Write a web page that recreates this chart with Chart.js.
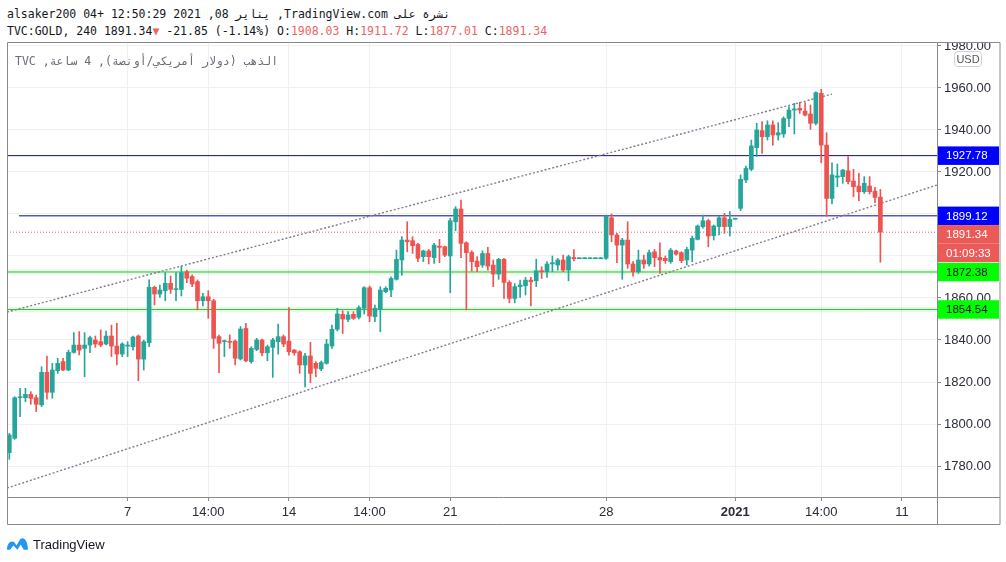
<!DOCTYPE html>
<html>
<head>
<meta charset="utf-8">
<script src="https://cdn.jsdelivr.net/npm/chart.js@4.4.1/dist/chart.umd.min.js"></script>
<style>
html, body { margin: 0; padding: 0; background: #fff; width: 1006px; height: 562px; overflow: hidden; }
#wrap { position: relative; width: 1006px; height: 562px; }
#chart { position: absolute; left: 0; top: 0; }
#head { position: absolute; left: 0; top: 0; width: 1006px; height: 42px; background: #fff; z-index: 2;
        font: 11.5px "DejaVu Sans Mono", monospace; color: #131722; }
#head div { position: absolute; left: 7px; white-space: pre; line-height: 14px; }
.l1 { top: 7px; direction: rtl; text-align: left; }
.l2 { top: 24px; }
.r { color: #ec6462; }
#legend { position: absolute; left: 15px; top: 54px; z-index: 2; direction: rtl; text-align: left; white-space: pre;
          font: 11.5px "DejaVu Sans Mono", monospace; color: #6a6d78; line-height: 14px; }
#usd { position: absolute; left: 954px; top: 51px; width: 28px; height: 16px; z-index: 3; box-sizing: border-box;
       border: 1px solid #cfd2d8; border-radius: 4px; background: #fff; text-align: center;
       font: 11px "Liberation Sans", Arial, sans-serif; line-height: 14px; color: #555; }
#logo { position: absolute; left: 6px; top: 535px; height: 18px; display: flex; align-items: center; }
#logo span { margin-left: 4px; font: 13px "Liberation Sans Narrow", "Liberation Sans", Arial, sans-serif; color: #131722; }
</style>
</head>
<body>
<div id="wrap">
  <canvas id="chart" width="1006" height="562"></canvas>
  <div id="head">
    <div class="l1" dir="rtl">نشرة على TradingView.com, يناير 08, 2021 12:50:29 +04 alsaker200</div>
    <div class="l2" id="ohlc"></div>
  </div>
  <div id="legend" dir="rtl">الذهب (دولار أمريكي/أونصة), 4 ساعة, TVC</div>
  <div id="usd">USD</div>
  <div id="logo">
    <svg width="23" height="16" viewBox="0 0 22 15">
      <path d="M1 13 C1 8 3 5 6 5 C8 5 9 7 10 9 L13 4 C14 2 16 1 18 3 C20 5 21 9 21 13 L17 13 L14 8 L11 13 L7 9 L4 13 Z" fill="#2196f3"/>
    </svg>
    <span>TradingView</span>
  </div>
</div>
<script>
// 4h candles, TVC:GOLD
const opens = [1786.4,1793.2,1812.5,1812.5,1814.1,1812.5,1809.1,1824.6,1815.1,1825.4,1829.7,1825.7,1834.1,1837.6,1836.0,1837.6,1840.0,1839.2,1838.1,1841.9,
  1837.1,1833.3,1837.1,1836.8,1841.9,1830.9,1838.7,1865.1,1861.9,1863.5,1867.0,1864.0,1864.1,1872.5,1870.2,1867.8,1858.7,1860.6,1858.7,1841.6,
  1839.2,1839.2,1839.5,1831.0,1845.5,1829.7,1835.5,1840.0,1833.9,1836.5,1839.2,1841.6,1839.5,1835.2,1834.4,1828.1,1832.4,1828.9,1826.2,1828.9,
  1837.1,1845.1,1852.2,1849.8,1852.2,1850.8,1855.1,1864.9,1851.1,1854.6,1863.0,1863.8,1868.9,1878.1,1887.6,1887.3,1885.5,1879.7,1882.4,1879.2,
  1884.7,1884.4,1880.0,1896.3,1902.4,1886.3,1881.7,1877.6,1875.7,1881.2,1875.7,1871.4,1878.4,1867.4,1859.8,1865.4,1865.8,1868.5,1868.2,1873.0,
  1872.5,1876.2,1875.7,1878.1,1873.3,1879.3,1878.7,1878.7,1878.7,1878.7,1878.7,1878.9,1898.2,1890.0,1885.2,1887.6,1876.2,1872.5,1878.1,1876.2,
  1882.0,1879.3,1878.9,1877.3,1882.4,1881.6,1878.1,1882.8,1887.9,1894.0,1896.8,1889.7,1894.0,1898.2,1894.0,1897.5,1902.7,1916.2,1921.3,1931.6,
  1939.7,1936.8,1942.4,1937.6,1938.1,1945.5,1949.5,1950.3,1949.0,1947.6,1943.2,1957.5,1932.8,1907.4,1917.5,1917.8,1920.6,1915.7,1913.3,1910.6,
  1913.3,1910.9,1908.03];
const highs = [1795.5,1813.0,1817.0,1817.0,1815.4,1813.8,1827.3,1832.4,1828.9,1831.3,1831.3,1835.2,1843.5,1844.0,1843.5,1841.9,1841.9,1844.8,1844.3,1847.1,
  1847.9,1838.7,1839.2,1841.9,1842.4,1840.0,1868.6,1865.7,1866.2,1872.1,1870.5,1872.1,1875.2,1873.3,1871.0,1868.6,1862.2,1863.5,1859.4,1842.4,
  1840.0,1842.4,1840.0,1846.4,1847.9,1836.8,1840.8,1840.4,1837.6,1840.8,1847.6,1842.4,1855.4,1835.5,1834.9,1833.6,1838.9,1829.7,1830.0,1840.3,
  1847.1,1855.1,1853.9,1853.5,1853.5,1856.3,1865.4,1865.7,1856.6,1865.4,1865.4,1870.1,1882.8,1889.2,1896.3,1889.2,1886.0,1882.8,1883.1,1886.0,
  1887.9,1884.7,1897.9,1903.5,1906.6,1886.8,1882.5,1879.7,1882.5,1884.1,1878.1,1878.9,1878.9,1868.2,1866.9,1868.5,1869.8,1869.8,1878.5,1874.9,
  1877.3,1880.0,1878.9,1880.4,1880.4,1883.1,1878.7,1878.7,1878.7,1878.7,1878.7,1899.5,1900.0,1890.8,1888.4,1896.3,1877.3,1882.8,1880.4,1882.8,
  1883.1,1886.3,1880.0,1883.6,1882.8,1882.0,1884.1,1889.5,1894.8,1899.5,1897.5,1894.8,1899.0,1900.3,1901.1,1897.5,1918.6,1922.8,1935.2,1943.2,
  1944.0,1944.4,1944.4,1943.5,1946.3,1951.1,1952.7,1953.2,1953.0,1951.9,1958.2,1959.4,1938.7,1924.4,1923.8,1921.3,1927.3,1921.3,1919.4,1917.8,
  1917.8,1912.7,1911.72];
const lows = [1783.2,1792.7,1803.5,1810.6,1809.4,1805.9,1808.3,1811.8,1812.2,1824.1,1825.4,1825.4,1833.7,1832.9,1822.5,1834.0,1836.5,1836.8,1837.6,1832.1,
  1828.1,1832.1,1832.1,1835.2,1820.6,1825.7,1836.8,1856.7,1860.3,1858.7,1862.2,1858.7,1861.0,1867.3,1865.4,1854.3,1856.2,1850.3,1836.0,1824.5,
  1832.1,1836.0,1828.1,1830.5,1829.6,1828.9,1834.9,1832.4,1830.1,1822.2,1833.3,1836.8,1832.8,1832.8,1824.1,1817.7,1819.7,1822.5,1825.4,1828.5,
  1836.0,1844.3,1843.1,1848.7,1849.8,1850.0,1852.4,1848.7,1848.7,1843.9,1862.5,1860.6,1868.5,1870.9,1882.0,1881.2,1877.3,1877.3,1876.2,1876.5,
  1876.8,1879.7,1862.5,1892.0,1879.2,1854.3,1872.8,1872.5,1874.6,1873.3,1865.4,1868.9,1859.8,1857.7,1857.7,1860.3,1861.4,1856.2,1865.4,1869.3,
  1869.8,1872.5,1873.3,1872.5,1868.2,1877.6,1878.7,1878.7,1878.7,1878.7,1878.7,1878.4,1886.8,1876.8,1868.9,1874.1,1870.4,1871.7,1874.1,1875.2,
  1874.9,1871.7,1876.5,1876.5,1880.4,1876.8,1875.7,1877.3,1887.6,1893.2,1884.4,1887.6,1890.0,1890.8,1889.5,1897.5,1901.6,1914.9,1920.6,1927.3,
  1928.9,1935.2,1932.8,1935.2,1936.5,1941.6,1938.1,1947.9,1946.7,1940.3,1942.4,1924.4,1899.0,1904.8,1913.0,1914.6,1914.3,1908.2,1906.3,1909.8,
  1909.5,1905.4,1877.01];
const closes = [1794.8,1812.5,1813.0,1814.1,1812.2,1809.4,1824.6,1815.1,1825.7,1828.9,1825.7,1834.1,1837.6,1835.2,1837.6,1841.1,1838.1,1837.6,1841.9,1837.1,
  1833.3,1838.1,1837.6,1841.4,1830.9,1839.2,1865.1,1861.9,1863.8,1867.0,1864.1,1864.4,1872.1,1869.4,1866.7,1858.7,1860.6,1858.7,1840.8,1838.4,
  1839.5,1838.9,1831.3,1845.2,1830.1,1836.0,1840.0,1833.9,1836.8,1840.0,1841.6,1838.1,1834.4,1833.9,1828.1,1832.4,1824.1,1826.5,1829.3,1838.1,
  1845.1,1852.4,1850.0,1851.9,1850.3,1855.4,1864.9,1851.4,1855.1,1863.8,1864.6,1869.3,1878.4,1887.6,1886.8,1884.9,1878.9,1882.4,1879.7,1885.2,
  1884.1,1880.4,1896.8,1902.4,1886.0,1881.6,1877.3,1874.9,1881.2,1875.2,1871.4,1878.4,1867.4,1859.8,1865.4,1866.2,1868.5,1867.7,1873.0,1872.5,
  1876.2,1876.8,1878.1,1873.3,1879.7,1878.7,1878.7,1878.7,1878.7,1878.7,1878.7,1899.0,1890.0,1885.2,1887.6,1876.2,1872.5,1878.1,1876.2,1881.6,
  1879.2,1878.1,1877.8,1882.8,1880.9,1877.8,1883.1,1888.4,1894.3,1896.8,1889.5,1894.3,1898.2,1894.0,1897.5,1897.5,1916.5,1921.7,1932.4,1940.0,
  1936.8,1942.4,1937.6,1938.7,1945.5,1949.5,1950.0,1949.5,1947.1,1943.2,1957.8,1932.8,1907.4,1918.6,1918.1,1920.9,1915.4,1913.0,1910.6,1914.6,
  1910.6,1907.9,1891.34];

const tickIdx = [22, 37, 52, 67, 82, 111, 135, 151, 166];
const tickLabels = ['7', '14:00', '14', '14:00', '21', '28', '2021', '14:00', '11'];
const priceTicks = [1780, 1800, 1820, 1840, 1860, 1880, 1900, 1920, 1940, 1960, 1980];

const blueLevels = [1927.78, 1899.12];
const blueStart = [-0.43, 1.8];
const greenLevels = [1872.38, 1854.54];
const lastPrice = 1891.34;
const prevClose = 1913.19;
const countdown = '01:09:33';
const upperTrend = [[-0.43, 1853.3], [153.0, 1957.1]];
const lowerTrend = [[-0.43, 1769.5], [172.53, 1913.8]];

const xMin = -0.43, xMax = 172.53;
const yMin = 1765.24, yMax = 1981.9;

const UP = '#26a69a', DOWN = '#ef5350';
const AXIS_FONT = '"Liberation Sans Narrow", "Liberation Sans", Arial, sans-serif';

// header OHLC line
const n = closes.length - 1;
const chg = closes[n] - prevClose;
document.getElementById('ohlc').innerHTML =
  'TVC:GOLD, 240 ' + closes[n].toFixed(2) + '<span class="r">▼</span> ' + chg.toFixed(2) +
  ' (' + (chg / prevClose * 100).toFixed(2) + '%) O:<span class="r">' + opens[n].toFixed(2) +
  '</span> H:<span class="r">' + highs[n].toFixed(2) + '</span> L:<span class="r">' + lows[n].toFixed(2) +
  '</span> C:<span class="r">' + closes[n].toFixed(2) + '</span>';

const candleColors = closes.map((c, i) => c >= opens[i] ? UP : DOWN);

function hline(v, x0) {
  return [{ x: x0, y: v }, { x: xMax, y: v }];
}
function seg(p) {
  return p.map(([x, y]) => ({ x, y }));
}

const lineBase = { type: 'line', pointRadius: 0, borderWidth: 1, fill: false, tension: 0 };

const datasets = [
  { type: 'bar', data: opens.map((o, i) => ({ x: i, y: [lows[i], highs[i]] })),
    backgroundColor: candleColors, barThickness: 1, minBarLength: 1, grouped: false, order: 2 },
  { type: 'bar', data: opens.map((o, i) => ({ x: i, y: [o, closes[i]] })),
    backgroundColor: candleColors, barThickness: 4, minBarLength: 1, grouped: false, order: 1 },
  ...greenLevels.map(v => ({ ...lineBase, data: hline(v, xMin), borderColor: 'rgba(0,255,0,0.13)', borderWidth: 5, order: 6 })),
  ...greenLevels.map(v => ({ ...lineBase, data: hline(v, xMin), borderColor: '#43b347', order: 5 })),
  ...blueLevels.map((v, i) => ({ ...lineBase, data: hline(v, blueStart[i]), borderColor: '#0a0a8c', order: 5 })),
  { ...lineBase, data: hline(lastPrice, xMin), borderColor: '#d9696a', borderDash: [1, 2], order: 5 },
  { ...lineBase, data: seg(upperTrend), borderColor: '#8a7890', borderWidth: 1.4, borderDash: [2, 2], order: 4 },
  { ...lineBase, data: seg(lowerTrend), borderColor: '#8a7890', borderWidth: 1.4, borderDash: [2, 2], order: 4 }
];

const framePlugin = {
  id: 'frame',
  afterDraw(chart) {
    const ctx = chart.ctx;
    const a = chart.chartArea;
    const y = chart.scales.y;
    ctx.save();
    // top of the price scale cuts the highest label
    ctx.fillStyle = '#fff';
    ctx.fillRect(a.right + 1, a.top - 2, 62, 3);
    ctx.strokeStyle = '#8a8a8a';
    ctx.lineWidth = 1;
    ctx.beginPath();
    ctx.rect(a.left + 0.5, a.top + 0.5, 999.5 - a.left, 524 - a.top);
    ctx.moveTo(a.right + 0.5, a.top);
    ctx.lineTo(a.right + 0.5, 524);
    ctx.moveTo(a.left, a.bottom + 0.5);
    ctx.lineTo(1000, a.bottom + 0.5);
    ctx.stroke();

    // price labels on the axis
    const boxes = [
      { v: blueLevels[0], t: blueLevels[0].toFixed(2), bg: '#0000ff', fg: '#fff' },
      { v: blueLevels[1], t: blueLevels[1].toFixed(2), bg: '#0000ff', fg: '#fff' },
      { v: lastPrice, t: lastPrice.toFixed(2), bg: '#ec5a58', fg: '#fff', extra: countdown },
      { v: greenLevels[0], t: greenLevels[0].toFixed(2), bg: '#00ff00', fg: '#111' },
      { v: greenLevels[1], t: greenLevels[1].toFixed(2), bg: '#00ff00', fg: '#111' }
    ];
    const h = 18.5;
    let prevBottom = -Infinity;
    ctx.font = '11.5px "Liberation Sans", Arial, sans-serif';
    ctx.textBaseline = 'middle';
    ctx.textAlign = 'left';
    boxes.forEach(b => {
      let top = Math.max(y.getPixelForValue(b.v) - h / 2, prevBottom);
      const rows = b.extra ? [b.t, b.extra] : [b.t];
      rows.forEach(txt => {
        ctx.fillStyle = b.bg;
        ctx.fillRect(a.right + 1, top, 61, h);
        ctx.fillStyle = b.fg;
        ctx.fillText(txt, a.right + 9, top + h / 2 + 0.5);
        top += h;
      });
      prevBottom = top;
    });
    ctx.restore();
  }
};

new Chart(document.getElementById('chart'), {
  type: 'bar',
  data: { datasets },
  options: {
    responsive: false,
    animation: false,
    devicePixelRatio: 1,
    layout: { padding: { left: 7, top: 42, right: 6, bottom: 38 } },
    plugins: { legend: { display: false }, tooltip: { enabled: false } },
    scales: {
      x: {
        type: 'linear', min: xMin, max: xMax, offset: false,
        grid: { offset: false, color: '#eef0f4', tickColor: '#8a8a8a', tickLength: 4 },
        border: { display: false },
        afterBuildTicks: s => { s.ticks = tickIdx.map(v => ({ value: v })); },
        afterFit: s => { s.height = 27; },
        ticks: {
          autoSkip: false, maxRotation: 0, padding: 4, color: '#2a2e39',
          callback: v => tickLabels[tickIdx.indexOf(v)],
          font: c => ({ family: AXIS_FONT, size: 13,
            weight: (c.tick && tickLabels[tickIdx.indexOf(c.tick.value)] === '2021') ? 'bold' : 'normal' })
        }
      },
      y: {
        type: 'linear', position: 'right', min: yMin, max: yMax, beginAtZero: false,
        grid: { color: '#eef0f4', tickColor: '#8a8a8a', tickLength: 4 },
        border: { display: false },
        afterBuildTicks: s => { s.ticks = priceTicks.map(v => ({ value: v })); },
        afterFit: s => { s.width = 63; },
        ticks: { padding: 3, color: '#2a2e39', font: { family: AXIS_FONT, size: 13 },
          callback: v => v.toFixed(2) }
      }
    }
  },
  plugins: [framePlugin]
});
</script>
</body>
</html>
